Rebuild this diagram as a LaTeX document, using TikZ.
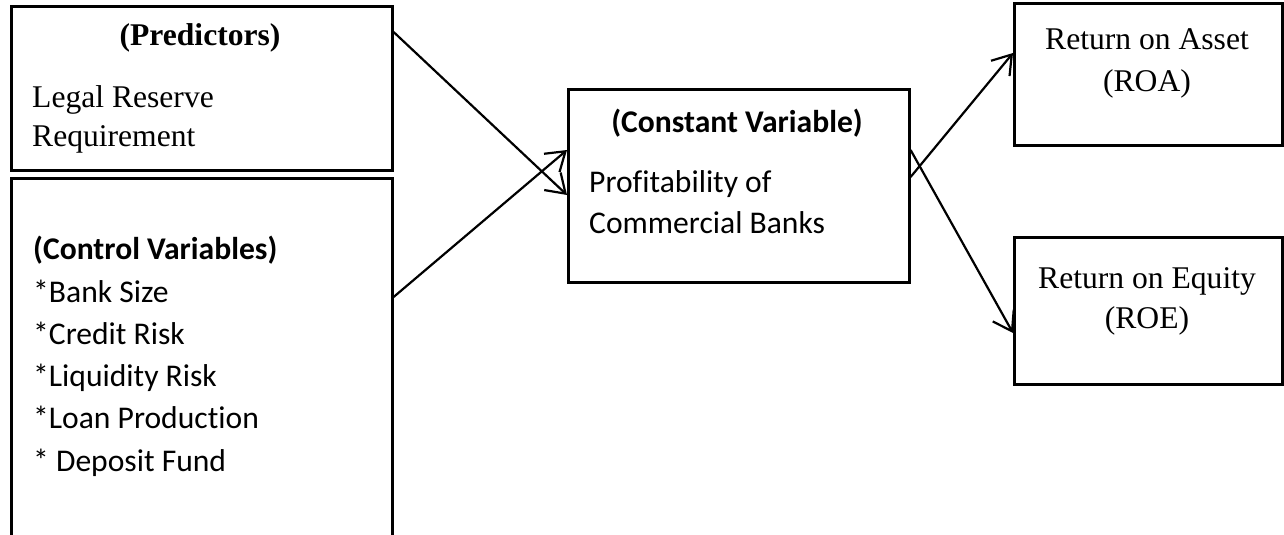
\documentclass[tikz,border=0pt]{standalone}
\usepackage{fontspec}
\setmainfont{Liberation Serif}
\newfontfamily\calibri[Ligatures=NoCommon]{Carlito}
\usetikzlibrary{positioning,arrows.meta}

\begin{document}
\begin{tikzpicture}[x=1pt, y=-1pt, font=\fontsize{31.6}{38}\selectfont,
  box/.style={draw, line width=2.6pt, rectangle, anchor=north west, inner sep=0pt},
  txt/.style={inner sep=0pt, anchor=base west},
  ctxt/.style={inner sep=0pt, anchor=base},
  link/.style={line width=2.2pt, -{Straight Barb[length=18pt,width=24pt]}}]
  \useasboundingbox (0,0) rectangle (1284,535);
  % Boxes
  \node[box, minimum width=381pt, minimum height=164pt] (pred) at (10,5) {};
  \node[box, minimum width=381pt, minimum height=420pt] (ctrl) at (10,177) {};
  \node[box, minimum width=341pt, minimum height=193pt] (const) at (567,88) {};
  \node[box, minimum width=268pt, minimum height=142pt] (roa) at (1013,2) {};
  \node[box, minimum width=268pt, minimum height=147pt] (roe) at (1013,236) {};
  % Predictors
  \node[ctxt] (predhead) at (200,46) {\textbf{(Predictors)}};
  \node[txt] (legal) at (32,107) {Legal Reserve};
  \node[txt] (requirement) at (32,146) {Requirement};
  % Control variables
  \node[txt] (ctrlhead) at (33,259) {\calibri\bfseries (Control Variables)};
  \node[txt] (size) at (33,302) {\calibri *Bank Size};
  \node[txt] (credit) at (33,344) {\calibri *Credit Risk};
  \node[txt] (liquidity) at (33,386) {\calibri *Liquidity Risk};
  \node[txt] (loan) at (33,428) {\calibri *Loan Production};
  \node[txt] (deposit) at (33,471) {\calibri * Deposit Fund};
  % Constant variable
  \node[ctxt] (consthead) at (737,132) {\calibri\bfseries (Constant Variable)};
  \node[txt] (profit) at (589,192) {\calibri Profitability of};
  \node[txt] (banks) at (589,233) {\calibri Commercial Banks};
  % Outcomes
  \node[ctxt] (roaname) at (1147,50) {Return on Asset};
  \node[ctxt] (roaabbr) at (1147,91) {(ROA)};
  \node[ctxt] (roename) at (1147,288) {Return on Equity};
  \node[ctxt] (roeabbr) at (1147,328) {(ROE)};
  % Links
  \draw[link] ([yshift=-27pt]pred.north east) -- ([yshift=-107pt]const.north west);
  \draw[link] ([yshift=-120pt]ctrl.north east) -- ([yshift=-62pt]const.north west);
  \draw[link] ([yshift=-89pt]const.north east) -- ([yshift=-51pt]roa.north west);
  \draw[link] ([yshift=-62pt]const.north east) -- ([yshift=-97pt]roe.north west);
\end{tikzpicture}
\end{document}
